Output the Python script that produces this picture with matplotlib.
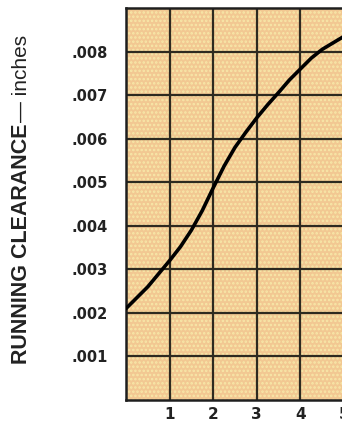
import matplotlib
matplotlib.use("Agg")
import matplotlib.pyplot as plt

# clearance curve
speed = [0.0, 0.25, 0.5, 0.75, 1.0, 1.25, 1.5, 1.75, 2.0, 2.25, 2.5,
         2.75, 3.0, 3.25, 3.5, 3.75, 4.0, 4.25, 4.5, 4.75, 5.0]
clearance = [0.0021, 0.00235, 0.0026, 0.0029, 0.0032, 0.00352, 0.0039,
             0.00435, 0.00487, 0.00537, 0.0058, 0.00615, 0.00648, 0.00678,
             0.00706, 0.00735, 0.0076, 0.00785, 0.00805, 0.0082, 0.00835]

x_ticks = [1, 2, 3, 4, 5]
y_ticks = [0.001, 0.002, 0.003, 0.004, 0.005, 0.006, 0.007, 0.008]
y_labels = [".001", ".002", ".003", ".004", ".005", ".006", ".007", ".008"]

plt.rcParams['hatch.linewidth'] = 1.2
plt.rcParams['hatch.color'] = '#f7e8a8'

fig = plt.figure(figsize=(3.42, 4.25), dpi=100)
ax = fig.add_axes([126 / 342, 25 / 425, 218 / 342, 392 / 425])

ax.set_facecolor('#f2c892')
ax.patch.set_hatch('....')
ax.patch.set_edgecolor('#f7e8a8')

ax.plot(speed, clearance, color='black', lw=2.6, solid_capstyle='round',
        solid_joinstyle='round', zorder=5)

ax.set_xlim(0, 5)
ax.set_ylim(0, 0.009)
ax.set_xticks(x_ticks)
ax.set_xticklabels([str(t) for t in x_ticks])
ax.set_yticks(y_ticks)
ax.set_yticklabels(y_labels)
ax.tick_params(length=0)
ax.tick_params(axis='y', pad=13)
ax.tick_params(axis='x', pad=5)
for lab in ax.get_xticklabels() + ax.get_yticklabels():
    lab.set_fontweight('bold')
    lab.set_fontsize(10.5)
    lab.set_color('#222222')
for lab in ax.get_xticklabels():
    lab.set_fontsize(11)

ax.grid(True, color='#2e2a20', lw=1.6)
ax.set_axisbelow(True)
for s in ax.spines.values():
    s.set_color('#1e1e1e')
    s.set_linewidth(1.8)

# axis title: bold part + plain units, placed end to end
t1 = fig.text(22 / 342, 1 - 364 / 425, "RUNNING CLEARANCE", rotation=90,
              ha='center', va='bottom', fontsize=15.5, fontweight='bold',
              family='Liberation Sans', color='#222222')
fig.canvas.draw()
bb = t1.get_window_extent().transformed(fig.transFigure.inverted())
fig.text(22 / 342, bb.y1 + 2 / 425, "— inches", rotation=90,
         ha='center', va='bottom', fontsize=15,
         family='Liberation Sans', color='#222222')

fig.savefig("out.png", dpi=100)
